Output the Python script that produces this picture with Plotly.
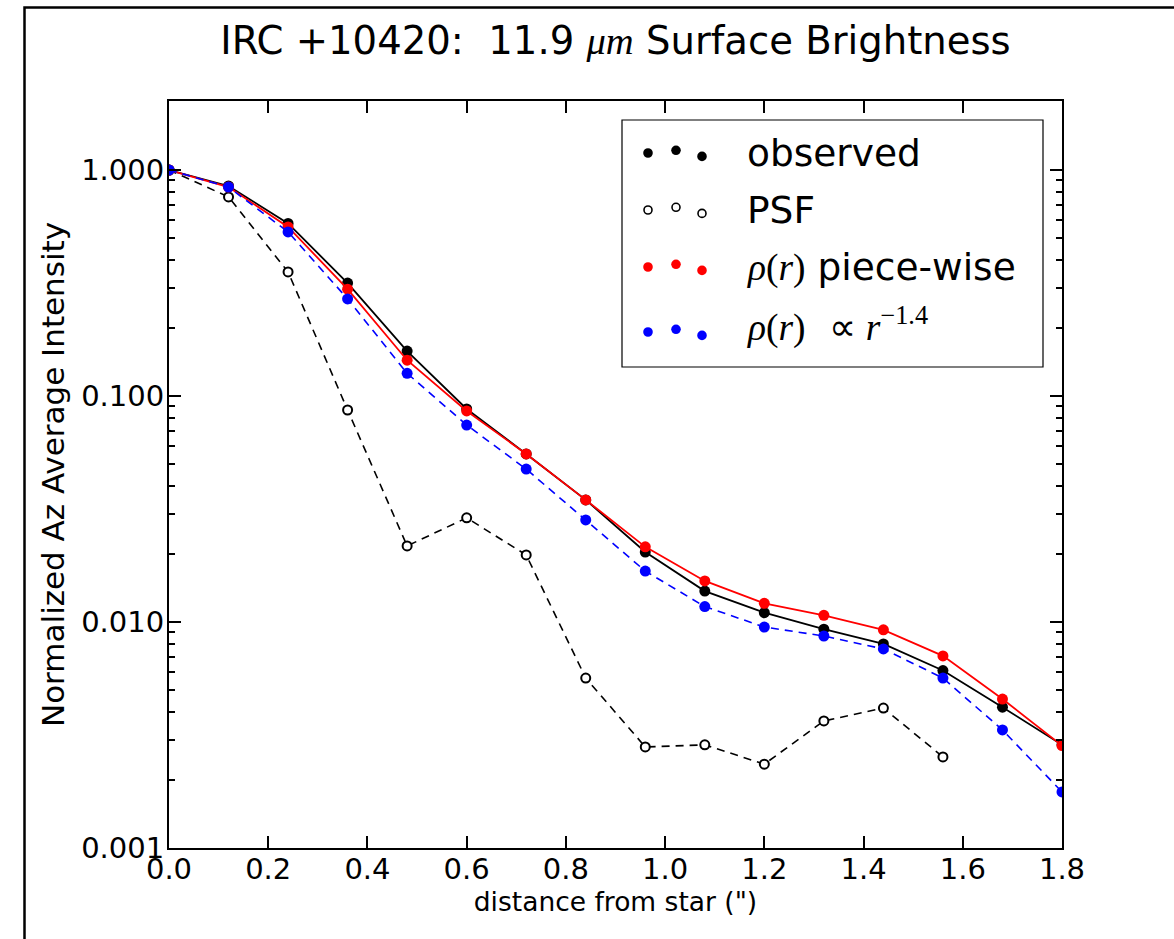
import plotly.graph_objects as go
import math

# ---- data ----
distance = [0.0, 0.12, 0.24, 0.36, 0.48, 0.60, 0.72, 0.84, 0.96, 1.08, 1.20, 1.32, 1.44, 1.56, 1.68, 1.80]
observed = [1.0, 0.85, 0.58, 0.316, 0.158, 0.0876, 0.0554, 0.0347, 0.0204, 0.0137, 0.0110, 0.0093, 0.0080, 0.0061, 0.0042, 0.00286]
psf_dist = [0.0, 0.12, 0.24, 0.36, 0.48, 0.60, 0.72, 0.84, 0.96, 1.08, 1.20, 1.32, 1.44, 1.56]
psf = [1.0, 0.76, 0.354, 0.0867, 0.0217, 0.0289, 0.0198, 0.00565, 0.0028, 0.00286, 0.00235, 0.00365, 0.00416, 0.00253]
piecewise = [1.0, 0.84, 0.56, 0.297, 0.144, 0.0859, 0.0554, 0.0347, 0.0215, 0.0152, 0.0121, 0.0107, 0.00923, 0.00708, 0.00456, 0.00284]
powerlaw = [1.0, 0.84, 0.532, 0.269, 0.126, 0.0744, 0.0475, 0.0283, 0.0168, 0.0117, 0.0095, 0.00867, 0.0076, 0.00565, 0.00333, 0.00177]

y_tickvals = [1.0, 0.1, 0.01, 0.001]
y_ticktext = ["1.000", "0.100", "0.010", "0.001"]
x_tickvals = [0.0, 0.2, 0.4, 0.6, 0.8, 1.0, 1.2, 1.4, 1.6, 1.8]

SERIF = "<span style=\"font-family:'Liberation Serif'\">{}</span>"
RHO_R = SERIF.format("<i>ρ</i>(<i>r</i>)")
legend_labels = ["observed", "PSF",
                 RHO_R + " piece-wise",
                 RHO_R + "  " + SERIF.format("∝ <i>r</i><sup>−1.4</sup>")]
legend_colors = ["black", "black", "red", "blue"]
legend_filled = [True, False, True, True]

FONT = "DejaVu Sans"
W, H = 1174, 939
L, R, T, B = 169, 112, 101, 91
PW, PH = W - L - R, H - T - B

def px_x(p):
    return (p - L) / PW

def px_y(p):
    return (H - B - p) / PH

fig = go.Figure()

fig.add_trace(go.Scatter(x=distance, y=observed, mode="lines+markers",
                         line=dict(color="black", width=1.8),
                         marker=dict(color="black", size=11), showlegend=False))
fig.add_trace(go.Scatter(x=psf_dist, y=psf, mode="lines+markers",
                         line=dict(color="black", width=1.6, dash="8px,6px"),
                         marker=dict(color="white", size=9, symbol="circle",
                                     line=dict(color="black", width=2)),
                         showlegend=False))
fig.add_trace(go.Scatter(x=distance, y=piecewise, mode="lines+markers",
                         line=dict(color="red", width=1.8),
                         marker=dict(color="red", size=11), showlegend=False))
fig.add_trace(go.Scatter(x=distance, y=powerlaw, mode="lines+markers",
                         line=dict(color="blue", width=1.6, dash="8px,6px"),
                         marker=dict(color="blue", size=11), showlegend=False))

shapes = []
annotations = []

# figure frame (partially visible)
shapes.append(dict(type="rect", xref="paper", yref="paper",
                   x0=px_x(24.5), x1=px_x(1300), y0=px_y(1100), y1=px_y(7.5),
                   line=dict(color="black", width=2.5), layer="below"))

# legend box
shapes.append(dict(type="rect", xref="paper", yref="paper",
                   x0=px_x(622), x1=px_x(1043), y0=px_y(367), y1=px_y(120),
                   line=dict(color="black", width=1.2), fillcolor="white", layer="above"))

row_y = [153, 210, 267, 332]
dot_x = [648, 676, 702]
dot_dy = [0, -2.7, 3.4]
text_y = [153, 210, 267, 325]
for i, lab in enumerate(legend_labels):
    for j, dx in enumerate(dot_x):
        cy = row_y[i] + dot_dy[j]
        if legend_filled[i]:
            r = 4.8
            shapes.append(dict(type="circle", xref="paper", yref="paper",
                               xsizemode="pixel", ysizemode="pixel",
                               xanchor=px_x(dx), yanchor=px_y(cy),
                               x0=-r, x1=r, y0=-r, y1=r,
                               fillcolor=legend_colors[i], line=dict(width=0), layer="above"))
        else:
            r = 4.0
            shapes.append(dict(type="circle", xref="paper", yref="paper",
                               xsizemode="pixel", ysizemode="pixel",
                               xanchor=px_x(dx), yanchor=px_y(cy),
                               x0=-r, x1=r, y0=-r, y1=r,
                               fillcolor="white", line=dict(color="black", width=1.6), layer="above"))
    annotations.append(dict(xref="paper", yref="paper", x=px_x(745), y=px_y(text_y[i]),
                            xanchor="left", yanchor="middle", showarrow=False,
                            text=lab, font=dict(family=FONT, size=37.5, color="black")))

fig.update_layout(
    width=W, height=H,
    margin=dict(l=L, r=R, t=T, b=B, pad=0),
    paper_bgcolor="white", plot_bgcolor="white",
    font=dict(family=FONT, color="black"),
    title=dict(text="IRC +10420:  11.9 " + SERIF.format("<i>μm</i>") + " Surface Brightness",
               x=px_x(615.5), xanchor="center", xref="paper",
               y=1 - 40 / H, yanchor="middle", yref="container",
               font=dict(family=FONT, size=38.6, color="black")),
    shapes=shapes, annotations=annotations,
)

fig.update_xaxes(range=[0, 1.8], tickvals=x_tickvals, tickformat=".1f",
                 ticks="inside", ticklen=12, tickwidth=1.5, tickcolor="black",
                 ticklabelstandoff=-6,
                 showline=True, linecolor="black", linewidth=2, mirror="ticks",
                 showgrid=False, zeroline=False,
                 tickfont=dict(family=FONT, size=29, color="black"),
                 title=dict(text="distance from star (\")", standoff=5,
                            font=dict(family=FONT, size=26.5, color="black")))

fig.update_yaxes(type="log", range=[-3, math.log10(2.02)],
                 tickmode="array", tickvals=y_tickvals, ticktext=y_ticktext,
                 ticks="inside", ticklen=12, tickwidth=1.5, tickcolor="black",
                 ticklabelstandoff=-3,
                 minor=dict(ticks="inside", ticklen=6, tickwidth=1.5, tickcolor="black",
                            dtick="D1", showgrid=False),
                 showline=True, linecolor="black", linewidth=2, mirror="ticks",
                 showgrid=False, zeroline=False,
                 tickfont=dict(family=FONT, size=29, color="black"),
                 title=dict(text="Normalized Az Average Intensity", standoff=7,
                            font=dict(family=FONT, size=31, color="black")))

fig.write_html("out.html")
